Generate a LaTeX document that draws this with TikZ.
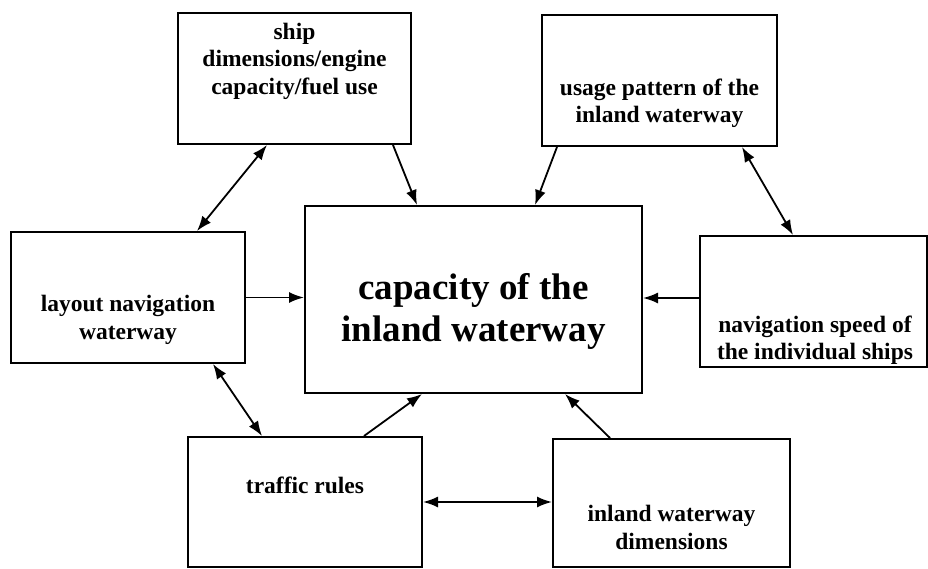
\documentclass[tikz,border=0pt]{standalone}
\usepackage{fontspec}
\setmainfont{Liberation Serif}
\usetikzlibrary{arrows.meta,calc}
\begin{document}
\begin{tikzpicture}[x=1pt,y=1pt,
  box/.style={draw=black,line width=2pt,rectangle,inner sep=0pt},
  lbl/.style={align=center,font=\bfseries\fontsize{23.5}{27.5}\selectfont,inner sep=0pt},
  biglbl/.style={align=center,font=\bfseries\fontsize{37}{42}\selectfont,inner sep=0pt},
  tip/.style={Latex[length=15pt,width=11pt]},
  arr/.style={line width=1.8pt,-{Latex[length=15pt,width=11pt]}},
  darr/.style={line width=1.8pt,{Latex[length=15pt,width=11pt]}-{Latex[length=15pt,width=11pt]}}]
\useasboundingbox (0,0) rectangle (928,-569);
% boxes
\node[box,minimum width=233pt,minimum height=131pt] (ship) at (294.5,-78.5) {};
\node[box,minimum width=235pt,minimum height=131pt] (usage) at (659.5,-80.5) {};
\node[box,minimum width=234pt,minimum height=131pt] (layout) at (128,-297.5) {};
\node[box,minimum width=337pt,minimum height=187pt] (cap) at (473.5,-299.5) {};
\node[box,minimum width=227pt,minimum height=131pt] (nav) at (813.5,-301.5) {};
\node[box,minimum width=234pt,minimum height=130pt] (traffic) at (305,-502) {};
\node[box,minimum width=237pt,minimum height=128pt] (inland) at (671.5,-503) {};
% labels
\node[lbl] (shipt) at (294.5,-61) {ship\\dimensions/engine\\capacity/fuel use};
\node[lbl] (usaget) at (659.5,-103.5) {usage pattern of the\\inland waterway};
\node[lbl] (layoutt) at (128,-320) {layout navigation\\waterway};
\node[biglbl] (capt) at (473.5,-311) {capacity of the\\inland waterway};
\node[lbl] (navt) at (815,-340) {navigation speed of\\the individual ships};
\node[lbl] (traffict) at (305,-485) {traffic rules};
\node[lbl] (inlandt) at (671.5,-527.5) {inland waterway\\dimensions};
% connectors
\draw[darr] ([xshift=-27.5pt]ship.south) -- ([xshift=69pt]layout.north);
\draw[arr] ([xshift=98.5pt]ship.south) -- ([xshift=-56.5pt]cap.north);
\draw[arr] ([xshift=-102.5pt]usage.south) -- ([xshift=61.5pt]cap.north);
\draw[darr] ([xshift=82.5pt]usage.south) -- ([xshift=-20.5pt]nav.north);
\draw[arr] (layout.east) -- (layout.east -| cap.west);
\draw[arr] ([yshift=3.5pt]nav.west) -- ([yshift=3.5pt]nav.west -| cap.east);
\draw[darr] ([xshift=85pt]layout.south) -- ([xshift=-43pt]traffic.north);
\draw[arr] ([xshift=59pt]traffic.north) -- ([xshift=-51.5pt]cap.south);
\draw[arr] ([xshift=-61.5pt]inland.north) -- ([xshift=91.5pt]cap.south);
\draw[darr] (traffic.east) -- (traffic.east -| inland.west);
\end{tikzpicture}
\end{document}
